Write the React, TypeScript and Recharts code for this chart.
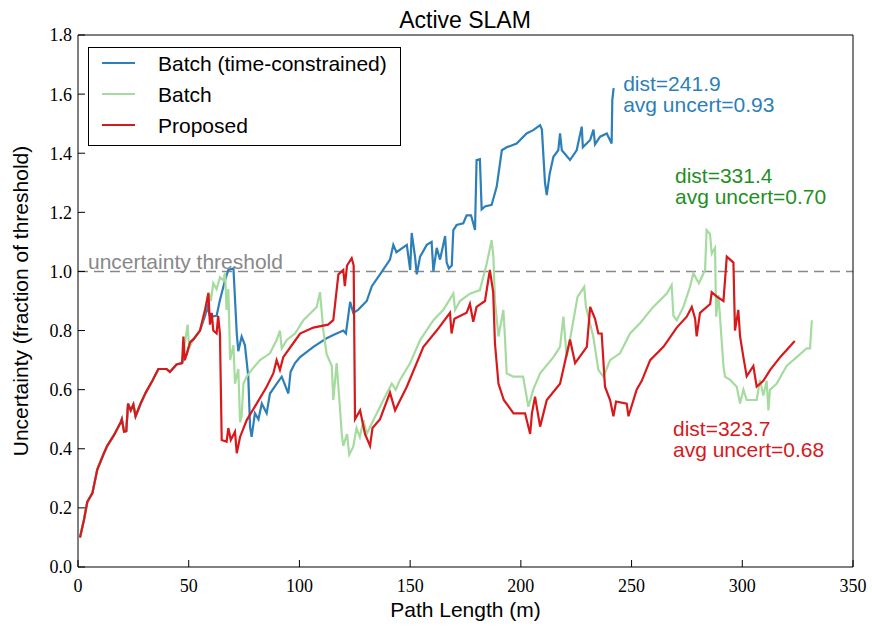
import { LineChart, Line, XAxis, YAxis, ReferenceLine, ReferenceDot, Legend } from 'recharts';

// path length (m) / uncertainty pairs
const batchTimeConstrained: [number, number][] = [
  [0.9, 0.1], [2.7, 0.16], [4.2, 0.22], [6.5, 0.25], [8.7, 0.33], [11.7, 0.385], [13.2, 0.41], [16.3, 0.447],
  [19.3, 0.49], [19.8, 0.5], [20.8, 0.458], [21.8, 0.46], [22.6, 0.553], [23.8, 0.53], [25, 0.55], [26, 0.51],
  [28.3, 0.553], [30.6, 0.59], [33.6, 0.63], [36.3, 0.67], [40, 0.67], [41.5, 0.66], [44.5, 0.685], [47, 0.69],
  [49.1, 0.72], [50.6, 0.76], [52.1, 0.77], [55.1, 0.8], [57.4, 0.85], [58.5, 0.88], [59.6, 0.847], [62.6, 0.85],
  [64, 0.9], [66.4, 0.97], [67.9, 1.005], [70.2, 1.01], [71.7, 0.79], [72.4, 0.73], [73.9, 0.78], [75.4, 0.75],
  [76.9, 0.644], [77.7, 0.475], [78.4, 0.44], [79.9, 0.52], [81.5, 0.5], [83, 0.553], [85.2, 0.52], [86.7, 0.587],
  [89.7, 0.62], [92, 0.644], [95, 0.587], [96, 0.66], [98, 0.69], [100.3, 0.71], [106.3, 0.745], [112.3, 0.774],
  [115.3, 0.785], [119.8, 0.8], [121, 0.79], [122.9, 0.897], [124.3, 0.86], [126.5, 0.87], [130.4, 0.9],
  [132.7, 0.95], [136.4, 0.99], [140.9, 1.04], [142.4, 1.09], [143.8, 1.065], [148.5, 1.09], [150, 1.005],
  [150.7, 1.13], [152.2, 1.05], [153, 0.99], [154.5, 1.05], [157.5, 1.09], [159.7, 1.1], [160.5, 1.0], [162, 1.08],
  [163.5, 1.04], [165.8, 1.12], [166.5, 1.03], [167.5, 1.01], [168.8, 1.02], [169.5, 1.14], [171, 1.157],
  [174, 1.163], [175.5, 1.19], [177.5, 1.19], [179.3, 1.14], [180, 1.377], [181.5, 1.38], [182.3, 1.21],
  [183.8, 1.22], [186.8, 1.225], [189.1, 1.287], [191.4, 1.41], [193.6, 1.42], [198.1, 1.433], [202.6, 1.467],
  [205.6, 1.478], [208.7, 1.495], [209.5, 1.48], [210.9, 1.3], [211.7, 1.258], [213, 1.33], [214.7, 1.388],
  [216.9, 1.41], [217.7, 1.467], [218.5, 1.41], [222.2, 1.377], [225.2, 1.41], [227.5, 1.49], [228, 1.42],
  [231.3, 1.445], [232.8, 1.48], [233.5, 1.43], [235.8, 1.456], [238.8, 1.467], [241, 1.433], [241.3, 1.58],
  [241.9, 1.62],
];

const batch: [number, number][] = [
  [0.9, 0.1], [2.7, 0.16], [4.2, 0.22], [6.5, 0.25], [8.7, 0.33], [11.7, 0.385], [13.2, 0.41], [16.3, 0.447],
  [19.3, 0.49], [19.8, 0.5], [20.8, 0.458], [21.8, 0.46], [22.6, 0.553], [23.8, 0.53], [25, 0.55], [26, 0.51],
  [28.3, 0.553], [30.6, 0.59], [33.6, 0.63], [36.3, 0.67], [40, 0.67], [41.5, 0.66], [44.5, 0.685], [47, 0.69],
  [49.5, 0.82], [50.2, 0.74], [52.1, 0.77], [55.1, 0.8], [57.4, 0.87], [58.9, 0.93], [60, 0.9], [61.1, 0.96],
  [62.6, 0.94], [64.1, 0.98], [65.6, 0.97], [66.4, 0.995], [67.1, 0.87], [67.9, 0.94], [68.7, 0.7], [70.2, 0.75],
  [70.9, 0.62], [72.4, 0.67], [73.2, 0.49], [73.9, 0.51], [74.7, 0.62], [76.2, 0.644], [78.4, 0.667], [82.2, 0.7],
  [86.7, 0.723], [89.7, 0.768], [91.2, 0.8], [92, 0.74], [94.3, 0.768], [98, 0.79], [101.8, 0.835], [107.8, 0.88],
  [109.3, 0.93], [110.8, 0.8], [112.3, 0.72], [114.6, 0.68], [115.3, 0.565], [116.8, 0.69], [118, 0.57],
  [119.1, 0.45], [119.8, 0.41], [121.5, 0.45], [122.5, 0.38], [124.3, 0.407], [125.8, 0.47], [127.3, 0.44],
  [128.9, 0.497], [130.4, 0.45], [133.4, 0.497], [137.9, 0.565], [141.7, 0.62], [143.5, 0.6], [145.4, 0.633],
  [150, 0.69], [154.5, 0.768], [160.5, 0.835], [165, 0.87], [169.5, 0.925], [170.3, 0.87], [172.5, 0.9],
  [177, 0.925], [181.5, 0.937], [184.6, 1.027], [186.8, 1.106], [187.6, 1.05], [188.3, 0.9], [189.9, 0.78],
  [192.1, 0.87], [192.8, 0.78], [193.6, 0.655], [196.6, 0.644], [201, 0.644], [203.4, 0.542], [205.6, 0.6],
  [208.7, 0.655], [214.7, 0.71], [217.7, 0.745], [219.2, 0.847], [220.7, 0.71], [222.2, 0.77], [225.6, 0.914],
  [228.6, 0.948], [229.4, 0.88], [232.7, 0.78], [235, 0.667], [237.3, 0.644], [240.3, 0.7], [244.8, 0.723],
  [249.3, 0.79], [253.8, 0.825], [259.8, 0.88], [265.9, 0.925], [268.1, 0.954], [268.9, 0.85], [270.4, 0.835],
  [273.4, 0.88], [276.4, 0.948], [277.9, 0.994], [280.4, 0.96], [283.2, 1.005], [283.9, 1.14], [285.4, 1.127],
  [286.2, 1.06], [287.7, 1.08], [288.2, 0.847], [289.2, 0.92], [289.9, 0.85], [291.5, 0.68], [292.2, 0.644],
  [294.5, 0.633], [297.5, 0.61], [299, 0.553], [300.5, 0.6], [302, 0.565], [306.5, 0.565], [308, 0.633],
  [309.5, 0.58], [311, 0.63], [311.8, 0.53], [312.5, 0.6], [315.5, 0.62], [320, 0.68], [324.6, 0.71],
  [329.1, 0.74], [330.6, 0.74], [331.4, 0.835],
];

const proposed: [number, number][] = [
  [0.9, 0.1], [2.7, 0.16], [4.2, 0.22], [6.5, 0.25], [8.7, 0.33], [11.7, 0.385], [13.2, 0.41], [16.3, 0.447],
  [19.3, 0.49], [19.8, 0.5], [20.8, 0.458], [21.8, 0.46], [22.6, 0.553], [23.8, 0.53], [25, 0.55], [26, 0.51],
  [28.3, 0.553], [30.6, 0.59], [33.6, 0.63], [36.3, 0.67], [40, 0.67], [41.5, 0.66], [44.5, 0.685], [47, 0.69],
  [47.6, 0.78], [48.2, 0.7], [49.1, 0.72], [50.6, 0.76], [52.1, 0.77], [55.1, 0.8], [57.4, 0.87], [58.9, 0.926],
  [59.6, 0.82], [60.4, 0.86], [61.1, 0.8], [62.6, 0.79], [63.3, 0.85], [64.1, 0.79], [64.9, 0.43], [67.1, 0.424],
  [67.9, 0.47], [69, 0.43], [70.9, 0.458], [71.7, 0.385], [73.2, 0.44], [76.2, 0.497], [80.7, 0.553], [85.2, 0.61],
  [88.2, 0.655], [89.7, 0.7], [91.2, 0.667], [92.7, 0.71], [97.2, 0.757], [100.3, 0.79], [106.3, 0.81],
  [112.9, 0.82], [115.3, 0.835], [117.6, 0.99], [119.8, 1.005], [120.5, 0.95], [121.5, 1.02], [123.6, 1.045],
  [124.5, 1.02], [125.1, 0.5], [127.4, 0.53], [129.6, 0.45], [131.9, 0.41], [133, 0.47], [136.4, 0.5],
  [140.9, 0.59], [143.2, 0.53], [144.5, 0.55], [148.5, 0.61], [156, 0.745], [162, 0.8], [168, 0.86],
  [168.7, 0.79], [170, 0.84], [175.5, 0.86], [177, 0.89], [178.5, 0.83], [180, 0.88], [183.8, 0.9], [186, 1.005],
  [187.5, 0.93], [188.3, 0.757], [189.9, 0.62], [192.3, 0.565], [196.7, 0.52], [201.9, 0.52], [204.2, 0.45],
  [205, 0.52], [206.4, 0.576], [208.7, 0.475], [211.7, 0.565], [217.7, 0.62], [222.2, 0.77], [224.5, 0.69],
  [229.8, 0.745], [231.3, 0.88], [233.5, 0.84], [235, 0.79], [236.5, 0.79], [238, 0.61], [240.3, 0.565],
  [241.8, 0.51], [243, 0.56], [247.8, 0.553], [248.6, 0.51], [252.3, 0.6], [254.6, 0.63], [258.4, 0.7],
  [264.4, 0.745], [270.4, 0.81], [274.9, 0.847], [277.2, 0.88], [278.7, 0.84], [279.4, 0.78], [280.9, 0.86],
  [285.5, 0.89], [286.2, 0.93], [288.5, 0.915], [291.5, 0.9], [293, 1.05], [296, 1.03], [296.7, 0.8],
  [298.2, 0.87], [299, 0.78], [300.5, 0.71], [302, 0.645], [305, 0.68], [306.5, 0.61], [309.5, 0.63],
  [312.6, 0.667], [317.1, 0.71], [323.7, 0.765],
];

const seriesNames = ['Batch (time-constrained)', 'Batch', 'Proposed'];
const lineColors = ['#2c7fb8', '#a6dba0', '#d7191c'];
const textColors = ['#2c7fb8', '#1f8f1f', '#d7191c'];
const seriesData = [batchTimeConstrained, batch, proposed];

// end-of-run annotations: [x, y of first baseline, text lines]
const notes: { x: number; y: number; lines: string[]; color: string }[] = [
  { x: 246.2, y: 1.61, lines: ['dist=241.9', 'avg uncert=0.93'], color: textColors[0] },
  { x: 269.6, y: 1.3, lines: ['dist=331.4', 'avg uncert=0.70'], color: textColors[1] },
  { x: 268.7, y: 0.443, lines: ['dist=323.7', 'avg uncert=0.68'], color: textColors[2] },
];

const xTicks = [0, 50, 100, 150, 200, 250, 300, 350];
const yTicks = [0, 0.2, 0.4, 0.6, 0.8, 1.0, 1.2, 1.4, 1.6, 1.8];

const SANS = '"Liberation Sans", Arial, sans-serif';
const SERIF = '"Liberation Serif", "DejaVu Serif", serif';
const tickLine = { stroke: '#000', strokeWidth: 1 };

const Note = ({ viewBox, lines, color }: any) => (
  <text x={viewBox.x} y={viewBox.y} fill={color} fontFamily={SANS} fontSize={21}>
    {lines.map((l: string, i: number) => (
      <tspan key={i} x={viewBox.x} dy={i === 0 ? 0 : 21}>{l}</tspan>
    ))}
  </text>
);

const LegendBox = () => (
  <svg width={313} height={99} style={{ display: 'block' }}>
    <rect x={0.5} y={0.5} width={312} height={98} fill="#fff" stroke="#000" strokeWidth={1} />
    {seriesNames.map((name, i) => (
      <g key={name}>
        <line x1={14} x2={47} y1={16 + i * 31} y2={16 + i * 31} stroke={lineColors[i]} strokeWidth={2} />
        <text x={70} y={24 + i * 31} fontFamily={SANS} fontSize={21} fill="#000">{name}</text>
      </g>
    ))}
  </svg>
);

export default function App() {
  return (
    <div style={{ position: 'absolute', left: 0, top: 0, width: 872, height: 627, background: '#fff' }}>
      <svg width={872} height={40} style={{ position: 'absolute', left: 0, top: 0 }}>
        <text x={465} y={28} textAnchor="middle" fontFamily={SANS} fontSize={23} fill="#000">Active SLAM</text>
      </svg>
      <LineChart width={872} height={627} margin={{ top: 34, right: 18, bottom: 0, left: 0 }}>
        <XAxis
          dataKey="x"
          type="number"
          domain={[0, 350]}
          ticks={xTicks}
          allowDataOverflow
          height={60}
          tickSize={-7}
          tickMargin={19}
          stroke="#000"
          tickLine={tickLine}
          tick={{ fill: '#000', fontFamily: SERIF, fontSize: 18 }}
          label={({ viewBox }: any) => (
            <text x={viewBox.x + viewBox.width / 2} y={viewBox.y + 50} textAnchor="middle" fontFamily={SANS} fontSize={21} fill="#000">
              Path Length (m)
            </text>
          )}
        />
        <XAxis
          xAxisId="top"
          orientation="top"
          dataKey="x"
          type="number"
          domain={[0, 350]}
          ticks={xTicks}
          height={1}
          tickSize={-7}
          tickLine={tickLine}
          tick={() => <g />}
          stroke="#000"
        />
        <YAxis
          type="number"
          domain={[0, 1.8]}
          ticks={yTicks}
          allowDataOverflow
          width={78}
          tickSize={-7}
          tickMargin={13}
          stroke="#000"
          tickLine={tickLine}
          tickFormatter={(v: number) => v.toFixed(1)}
          tick={{ fill: '#000', fontFamily: SERIF, fontSize: 18 }}
          label={({ viewBox }: any) => (
            <text
              x={20}
              y={viewBox.y + viewBox.height / 2}
              transform={`rotate(-90, 20, ${viewBox.y + viewBox.height / 2})`}
              textAnchor="middle"
              dominantBaseline="central"
              fontFamily={SANS}
              fontSize={21}
              fill="#000"
            >
              Uncertainty (fraction of threshold)
            </text>
          )}
        />
        <YAxis
          yAxisId="right"
          orientation="right"
          type="number"
          domain={[0, 1.8]}
          ticks={yTicks}
          width={1}
          tickSize={-7}
          tickLine={tickLine}
          tick={() => <g />}
          stroke="#000"
        />
        <ReferenceLine
          y={1}
          stroke="#888"
          strokeWidth={1.5}
          strokeDasharray="10 6"
          label={({ viewBox }: any) => (
            <text x={viewBox.x + 10} y={viewBox.y - 2} fill="#888" fontFamily={SANS} fontSize={21}>
              uncertainty threshold
            </text>
          )}
        />
        {seriesData.map((d, i) => (
          <Line
            key={seriesNames[i]}
            name={seriesNames[i]}
            data={d.map(([x, y]) => ({ x, y }))}
            dataKey="y"
            type="linear"
            stroke={lineColors[i]}
            strokeWidth={2.2}
            dot={false}
            isAnimationActive={false}
          />
        ))}
        {notes.map((n) => (
          <ReferenceDot
            key={n.lines[0]}
            x={n.x}
            y={n.y}
            r={0}
            fill="none"
            stroke="none"
            label={(p: any) => <Note viewBox={p.viewBox} lines={n.lines} color={n.color} />}
          />
        ))}
        <Legend
          layout="horizontal"
          align="center"
          verticalAlign="middle"
          wrapperStyle={{ position: 'absolute', left: 88, top: 47, width: 313, height: 99 }}
          content={() => <LegendBox />}
        />
      </LineChart>
    </div>
  );
}
